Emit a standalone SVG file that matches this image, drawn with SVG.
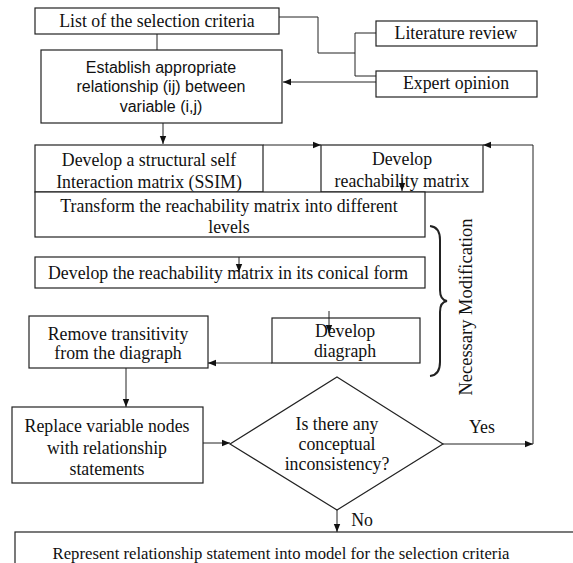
<svg xmlns="http://www.w3.org/2000/svg" width="573" height="563" viewBox="0 0 573 563">
<style>
.b{fill:#fff;stroke:#222;stroke-width:1.2}
.c{fill:none;stroke:#222;stroke-width:1}
.t{font-family:"Liberation Serif","Times New Roman",serif;font-size:17.8px;fill:#111;text-anchor:middle;dominant-baseline:central}
.s{font-family:"Liberation Sans",Arial,sans-serif;font-size:16px;fill:#111;text-anchor:middle;dominant-baseline:central}
</style>
<defs>
<marker id="a" viewBox="0 0 10 10" refX="10" refY="5" markerWidth="8" markerHeight="8" orient="auto" markerUnits="userSpaceOnUse"><path d="M0,1L10,5L0,9z" fill="#111" stroke="none"/></marker>
</defs>
<rect width="573" height="563" fill="#fff"/>
<g id="list"><rect class="b" x="35" y="8" width="244" height="26"/><text class="t" x="157" y="21">List of the selection criteria</text></g>
<g id="literature"><rect class="b" x="376" y="21" width="161" height="25"/><text class="t" x="456" y="33">Literature review</text></g>
<g id="expert"><rect class="b" x="376" y="71" width="161" height="26"/><text class="t" x="456" y="83">Expert opinion</text></g>
<g id="establish"><rect class="b" x="41" y="50" width="241" height="73"/><text class="s" x="161" y="67">Establish appropriate</text><text class="s" x="161" y="86">relationship (ij) between</text><text class="s" x="161" y="106">variable (i,j)</text></g>
<g id="ssim"><rect class="b" x="35" y="145" width="228" height="47"/><text class="t" x="149" y="160">Develop a structural self</text><text class="t" x="149" y="182">Interaction matrix (SSIM)</text></g>
<g id="reach"><rect class="b" x="321" y="145" width="162" height="47"/><text class="t" x="402" y="159">Develop</text><text class="t" x="402" y="181">reachability matrix</text></g>
<g id="transform"><rect class="b" x="35" y="192" width="390" height="45"/><text class="t" x="229" y="206">Transform the reachability matrix into different</text><text class="t" x="229" y="227">levels</text></g>
<g id="canonical"><rect class="b" x="35" y="257" width="390" height="31"/><text class="t" x="228" y="273">Develop the reachability matrix in its conical form</text></g>
<g id="remove"><rect class="b" x="29" y="316" width="179" height="52"/><text class="t" x="118" y="334">Remove transitivity</text><text class="t" x="118" y="353">from the diagraph</text></g>
<g id="digraph"><rect class="b" x="272" y="318" width="148" height="45"/><text class="t" x="345" y="331">Develop</text><text class="t" x="345" y="351">diagraph</text></g>
<g id="replace"><rect class="b" x="12" y="407" width="191" height="76"/><text class="t" x="107" y="426">Replace variable nodes</text><text class="t" x="107" y="448">with relationship</text><text class="t" x="107" y="469">statements</text></g>
<g id="decision"><polygon class="b" points="337,377 443,444 337,510 230,444"/><text class="t" x="337" y="424">Is there any</text><text class="t" x="337" y="444">conceptual</text><text class="t" x="337" y="464">inconsistency?</text></g>
<g id="represent"><rect class="b" x="15" y="532" width="565" height="40"/><text class="t" style="font-size:16.7px" x="281" y="553">Represent relationship statement into model for the selection criteria</text></g>
<g id="connectors">
<polyline class="c" points="279,17 318,17 318,53 355,53"/>
<polyline class="c" points="376,33 355,33 355,76 376,76"/>
<line class="c" x1="376" y1="82" x2="283" y2="82" marker-end="url(#a)"/>
<line class="c" x1="157" y1="34" x2="157" y2="50"/>
<line class="c" x1="163" y1="123" x2="163" y2="144" marker-end="url(#a)"/>
<line class="c" x1="263" y1="145" x2="321" y2="145" marker-end="url(#a)"/>
<line class="c" x1="402" y1="176" x2="402" y2="191" marker-end="url(#a)"/>
<line class="c" x1="239" y1="257" x2="239" y2="272" marker-end="url(#a)"/>
<line class="c" x1="329" y1="311" x2="329" y2="333" marker-end="url(#a)"/>
<line class="c" x1="272" y1="363" x2="208" y2="363" marker-end="url(#a)"/>
<line class="c" x1="126" y1="368" x2="126" y2="407" marker-end="url(#a)"/>
<line class="c" x1="203" y1="443" x2="230" y2="443" marker-end="url(#a)"/>
<line class="c" x1="443" y1="444" x2="533" y2="444" marker-end="url(#a)"/>
<polyline class="c" points="533,444 533,145 483,145" marker-end="url(#a)"/>
<line class="c" x1="337" y1="510" x2="337" y2="532" marker-end="url(#a)"/>
<path d="M430,226 Q440,227 440,240 L440,290 Q440,300 447,301 Q440,302 440,312 L440,362 Q440,375 430,376" fill="none" stroke="#222" stroke-width="2"/>
<text class="t" x="482" y="427">Yes</text>
<text class="t" x="362" y="520">No</text>
<text class="t" style="font-size:18.5px" transform="translate(466,307) rotate(-90)">Necessary Modification</text>
</g>
</svg>
